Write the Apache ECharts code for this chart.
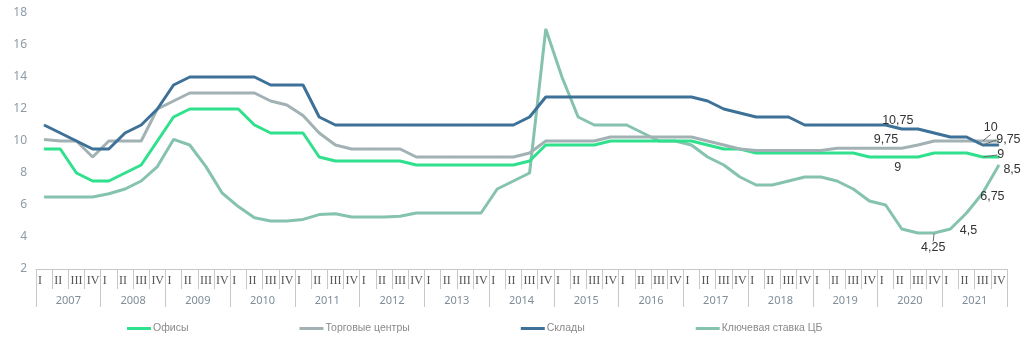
<!DOCTYPE html>
<html>
<head>
<meta charset="utf-8">
<script src="https://cdn.jsdelivr.net/npm/echarts@6/dist/echarts.min.js"></script>
<style>
  html, body { margin: 0; padding: 0; background: #fff; }
  #chart { width: 1024px; height: 339px; }
</style>
</head>
<body>
<div id="chart"></div>
<script>
// Quarterly yields (%) of commercial property segments vs. the central bank rate
const years = ['2007','2008','2009','2010','2011','2012','2013','2014','2015','2016','2017','2018','2019','2020','2021'];
const quarterNames = ['I','II','III','IV'];
const quarters = years.flatMap(() => quarterNames);

const offices = [
  9.5, 9.5, 8.0, 7.5,
  7.5, 8.0, 8.5, 10,
  11.5, 12, 12, 12,
  12, 11, 10.5, 10.5,
  10.5, 9.0, 8.75, 8.75,
  8.75, 8.75, 8.75, 8.5,
  8.5, 8.5, 8.5, 8.5,
  8.5, 8.5, 8.75, 9.75,
  9.75, 9.75, 9.75, 10,
  10, 10, 10, 10,
  10, 9.75, 9.5, 9.5,
  9.25, 9.25, 9.25, 9.25,
  9.25, 9.25, 9.25, 9.0,
  9.0, 9.0, 9.0, 9.25,
  9.25, 9.25, 9.0, 9.0
];
const malls = [
  10.1, 10, 10, 9.0,
  10, 10, 10, 12,
  12.5, 13, 13, 13,
  13, 13, 12.5, 12.25,
  11.6, 10.5, 9.75, 9.5,
  9.5, 9.5, 9.5, 9.0,
  9.0, 9.0, 9.0, 9.0,
  9.0, 9.0, 9.25, 10,
  10, 10, 10, 10.25,
  10.25, 10.25, 10.25, 10.25,
  10.25, 10, 9.75, 9.5,
  9.4, 9.4, 9.4, 9.4,
  9.4, 9.55, 9.55, 9.55,
  9.55, 9.55, 9.75, 10,
  10, 10, 10, 10
];
const warehouses = [
  11, 10.5, 10, 9.5,
  9.5, 10.5, 11, 12,
  13.5, 14, 14, 14,
  14, 14, 13.5, 13.5,
  13.5, 11.5, 11, 11,
  11, 11, 11, 11,
  11, 11, 11, 11,
  11, 11, 11.5, 12.75,
  12.75, 12.75, 12.75, 12.75,
  12.75, 12.75, 12.75, 12.75,
  12.75, 12.5, 12, 11.75,
  11.5, 11.5, 11.5, 11,
  11, 11, 11, 11,
  11, 10.75, 10.75, 10.5,
  10.25, 10.25, 9.75, 9.75
];
const keyRate = [
  6.5, 6.5, 6.5, 6.5,
  6.7, 7.0, 7.5, 8.4,
  10.1, 9.75, 8.4, 6.75,
  5.9, 5.2, 5.0, 5.0,
  5.1, 5.4, 5.45, 5.25,
  5.25, 5.25, 5.3, 5.5,
  5.5, 5.5, 5.5, 5.5,
  7.0, 7.5, 8.0, 17,
  14, 11.5, 11, 11,
  11, 10.5, 10, 10,
  9.75, 9.0, 8.5, 7.75,
  7.25, 7.25, 7.5, 7.75,
  7.75, 7.5, 7.0, 6.25,
  6.0, 4.5, 4.25, 4.25,
  4.5, 5.5, 6.75, 8.5
];
const seriesNames = ['Офисы', 'Торговые центры', 'Склады', 'Ключевая ставка ЦБ'];
const seriesColors = ['#2fe08c', '#a2b2b4', '#3e7198', '#86c2b0'];

// Labelled points: [index, position, shift, drawn with a leader line]
const labelPlacement = [
  [[53, 'bottom', [-4, -1]], [58, 'right', [9, -2], true]],
  [[54, 'top', [-32, 7]], [58, 'top', [8, -1], true]],
  [[53, 'top', [-4, 4]], [58, 'right', [8, -5], true]],
  [[55, 'bottom', [-1, 3], true], [56, 'right', [4, 2]], [58, 'right', [-8, 4]], [59, 'right', [-1, 5]]]
];

const fmt = v => String(v).replace('.', ',');

function buildData(values, placements) {
  return values.map((v, i) => {
    const p = placements.find(x => x[0] === i);
    if (!p) return v;
    const item = {
      value: v,
      label: {
        show: true,
        position: p[1],
        formatter: params => fmt(params.value)
      }
    };
    if (p[3]) {
      item.labelLine = { show: true, length2: 0, lineStyle: { color: '#6b6b6b', width: 1 } };
    }
    return item;
  });
}

const allValues = [offices, malls, warehouses, keyRate];
const series = allValues.map((vals, k) => ({
  name: seriesNames[k],
  type: 'line',
  xAxisIndex: 0,
  data: buildData(vals, labelPlacement[k]),
  symbol: 'circle',
  symbolSize: 1,
  showSymbol: true,
  lineStyle: { width: 3, color: seriesColors[k] },
  itemStyle: { color: seriesColors[k] },
  label: {
    show: false,
    color: '#333',
    fontFamily: "'Liberation Sans Narrow', 'Liberation Sans'",
    fontSize: 12.5
  },
  labelLayout: params => {
    const p = labelPlacement[k].find(x => x[0] === params.dataIndex);
    return p ? { dx: p[2][0], dy: p[2][1] } : {};
  },
  z: k === 3 ? 1 : 2 + k,
  animation: false
}));

const chart = echarts.init(document.getElementById('chart'), null, { renderer: 'canvas' });
chart.setOption({
  animation: false,
  backgroundColor: '#ffffff',
  color: seriesColors,
  grid: { left: 36, right: 17, top: 13, bottom: 70, containLabel: false, outerBoundsMode: 'none' },
  legend: {
    data: seriesNames,
    left: 122,
    top: 318,
    icon: 'rect',
    itemWidth: 24,
    itemHeight: 3,
    itemGap: 111,
    textStyle: { color: '#8a8a8a', fontSize: 10.5, fontFamily: 'Liberation Sans', padding: [0, 0, 0, -3] }
  },
  xAxis: [
    {
      type: 'category',
      data: quarters,
      boundaryGap: true,
      position: 'bottom',
      axisLine: { show: true, lineStyle: { color: '#c8c8c8', width: 1 } },
      axisTick: { show: true, interval: 0, length: 20, lineStyle: { color: '#c8c8c8' } },
      axisLabel: {
        interval: 0,
        margin: 6,
        color: '#555',
        fontFamily: 'Liberation Serif',
        fontSize: 12,
        formatter: v => '{q|' + v + '}',
        rich: { q: { width: 12, align: 'left', fontFamily: 'Liberation Serif', fontSize: 12, color: '#555' } }
      },
      splitLine: { show: false }
    },
    {
      type: 'category',
      data: years,
      boundaryGap: true,
      position: 'bottom',
      axisLine: { show: false },
      axisTick: { show: true, interval: 0, length: 38, lineStyle: { color: '#c8c8c8' } },
      axisLabel: { interval: 0, margin: 26, color: '#7f8d98', fontFamily: 'Noto Sans', fontSize: 11 },
      splitLine: { show: false }
    }
  ],
  yAxis: {
    type: 'value',
    min: 2,
    max: 18,
    interval: 2,
    name: '%',
    nameLocation: 'middle',
    nameRotate: 90,
    nameGap: 13,
    nameTextStyle: { color: '#8c9ba8', fontSize: 11, fontFamily: 'Noto Sans' },
    axisLine: { show: false },
    axisTick: { show: false },
    splitLine: { show: false },
    axisLabel: { color: '#8c9ba8', fontSize: 12, fontFamily: 'Noto Sans', margin: 9 }
  },
  series: series
});
</script>
</body>
</html>
